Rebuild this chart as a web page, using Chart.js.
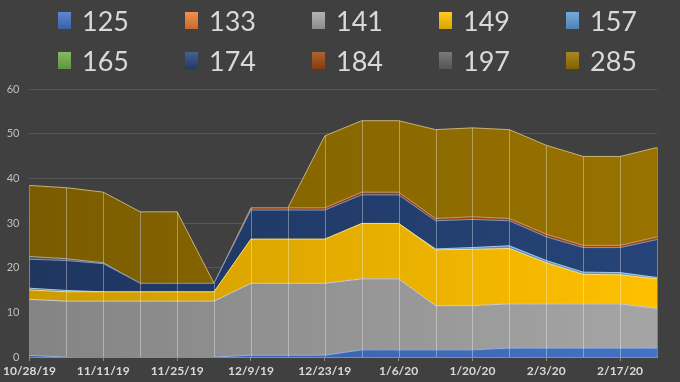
<!DOCTYPE html>
<html>
<head>
<meta charset="utf-8">
<script src="https://cdn.jsdelivr.net/npm/chart.js@4.4.0/dist/chart.umd.min.js"></script>
<style>
  body { margin: 0; background: #404040; }
  #wrap { position: relative; width: 680px; height: 382px; }
  #legend {
    position: absolute; left: 58px; top: 0px;
    display: grid; grid-template-columns: repeat(5, 127px); grid-auto-rows: 40px;
  }
  .item { display: flex; align-items: center; font: 27px Lato, sans-serif; color: #d9d9d9; }
  .box { width: 13px; height: 17px; margin-right: 11px; }
</style>
</head>
<body>
<div id="wrap">
  <canvas id="chart" width="680" height="382"></canvas>
  <div id="legend"></div>
</div>
<script>
const weeks = ['10/28/19', '11/4/19', '11/11/19', '11/18/19', '11/25/19', '12/2/19', '12/9/19', '12/16/19', '12/23/19',
    '12/30/19', '1/6/20', '1/13/20', '1/20/20', '1/27/20', '2/3/20', '2/10/20', '2/17/20', '2/24/20'];

const names = ['125', '133', '141', '149', '157', '165', '174', '184', '197', '285'];
const colors = ['#4472C4', '#ED7D31', '#A5A5A5', '#FFC000', '#5B9BD5', '#70AD47', '#264478', '#9E480E', '#636363', '#997300'];

const s125 = [0.35, 0, 0, 0, 0, 0, 0.4, 0.4, 0.4, 1.6, 1.6, 1.6, 1.6, 2, 2, 2, 2, 2];
const s133 = [0, 0, 0, 0, 0, 0, 0, 0, 0, 0, 0, 0, 0, 0, 0, 0, 0, 0];
const s141 = [12.55, 12.5, 12.5, 12.5, 12.5, 12.5, 16.1, 16.1, 16.1, 15.9, 15.9, 9.9, 9.9, 9.9, 9.9, 9.9, 9.9, 8.9];
const s149 = [2.1, 2.1, 2.1, 2.1, 2.1, 2.1, 9.9, 9.9, 9.9, 12.4, 12.4, 12.5, 12.6, 12.4, 9.2, 6.6, 6.5, 6.6];
const s157 = [0.4, 0.3, 0, 0, 0, 0, 0, 0, 0, 0, 0, 0.2, 0.4, 0.6, 0.5, 0.5, 0.5, 0.3];
const s165 = [0, 0, 0, 0, 0, 0, 0, 0, 0, 0, 0, 0, 0, 0, 0, 0, 0, 0];
const s174 = [6.5, 6.7, 6.3, 1.9, 1.9, 1.9, 6.5, 6.5, 6.5, 6.4, 6.4, 6.3, 6.3, 5.6, 5.3, 5.5, 5.6, 8.5];
const s184 = [0, 0, 0, 0, 0, 0, 0.5, 0.5, 0.5, 0.6, 0.6, 0.5, 0.6, 0.5, 0.6, 0.5, 0.5, 0.6];
const s197 = [0.6, 0.4, 0.2, 0, 0, 0, 0, 0, 0, 0, 0, 0, 0, 0, 0, 0, 0, 0];
const s285 = [15.9, 15.9, 15.8, 16, 16, 0, 0, 0, 16.1, 16, 16, 19.9, 19.9, 19.9, 19.9, 19.9, 19.9, 20];

const values = [s125, s133, s141, s149, s157, s165, s174, s184, s197, s285];

function shade(hex, f) {
    const n = parseInt(hex.slice(1), 16);
    const r = (n >> 16) & 255, g = (n >> 8) & 255, b = n & 255;
    const m = v => Math.round(f < 1 ? v * f : v + (255 - v) * (f - 1));
    return 'rgb(' + m(r) + ',' + m(g) + ',' + m(b) + ')';
}

// darker on the left, like the original's shading
function gradientFill(color) {
    return function (ctx) {
        const area = ctx.chart.chartArea;
        if (!area) return color;
        const g = ctx.chart.ctx.createLinearGradient(area.left, 0, area.right, 0);
        g.addColorStop(0, shade(color, 0.8));
        g.addColorStop(1, color);
        return g;
    };
}

const datasets = names.map((name, i) => ({
    label: name,
    data: values[i],
    fill: i === 0 ? 'origin' : '-1',
    backgroundColor: gradientFill(colors[i]),
    borderColor: shade(colors[i], 1.45),
    borderWidth: values[i].some(v => v > 0) ? 1 : 0,
    pointRadius: 0,
    tension: 0,
    segment: {
        borderColor: c => (c.p0.parsed.y === 0 && c.p1.parsed.y === 0) ? 'transparent' : undefined
    }
}));

// vertical drop lines from the top of the stack down to the axis
const dropLines = {
    id: 'dropLines',
    afterDatasetsDraw(chart) {
        const ctx = chart.ctx;
        const top = chart.getDatasetMeta(chart.data.datasets.length - 1).data;
        const y0 = chart.scales.y.getPixelForValue(0);
        ctx.save();
        ctx.strokeStyle = 'rgba(255,255,255,0.35)';
        ctx.lineWidth = 1;
        top.forEach(p => {
            const x = Math.round(p.x) + 0.5;
            ctx.beginPath();
            ctx.moveTo(x, p.y);
            ctx.lineTo(x, y0);
            ctx.stroke();
        });
        ctx.restore();
    }
};

const chart = new Chart(document.getElementById('chart'), {
    type: 'line',
    data: { labels: weeks, datasets: datasets },
    options: {
        responsive: false,
        animation: false,
        layout: { padding: { top: 89, right: 23, left: 0, bottom: 0 } },
        plugins: {
            legend: { display: false },
            tooltip: { enabled: false }
        },
        scales: {
            x: {
                offset: false,
                grid: {
                    drawOnChartArea: false,
                    tickLength: 4,
                    color: c => c.index % 2 === 0 ? '#8c8c8c' : 'transparent'
                },
                border: { color: '#8c8c8c' },
                ticks: {
                    autoSkip: false,
                    maxRotation: 0,
                    padding: 3,
                    color: '#d9d9d9',
                    font: { family: 'Lato', size: 12, weight: 'bold' },
                    callback: (v, i) => i % 2 === 0 ? weeks[i] : ''
                },
                afterFit: s => { s.height = 25; }
            },
            y: {
                stacked: true,
                min: 0,
                max: 60,
                ticks: {
                    stepSize: 10,
                    padding: 10,
                    color: '#bfbfbf',
                    font: { family: 'Lato', size: 11 }
                },
                grid: { color: 'rgba(255,255,255,0.12)', drawTicks: false },
                border: { display: false },
                afterFit: s => { s.width = 25; }
            }
        }
    },
    plugins: [dropLines]
});

// legend in two rows of five, built from the same names and colours
const legend = document.getElementById('legend');
names.forEach((name, i) => {
    const item = document.createElement('div');
    item.className = 'item';
    const box = document.createElement('span');
    box.className = 'box';
    box.style.background = 'linear-gradient(' + shade(colors[i], 1.15) + ',' + shade(colors[i], 0.85) + ')';
    item.appendChild(box);
    item.appendChild(document.createTextNode(name));
    legend.appendChild(item);
});
</script>
</body>
</html>
